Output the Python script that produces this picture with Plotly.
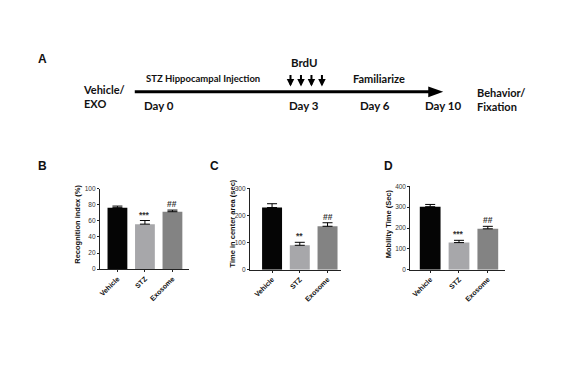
import plotly.graph_objects as go

# ---------------- data ----------------
groups = ["Vehicle", "STZ", "Exosome"]
bar_colors = ["#050505", "#a7a7aa", "#838383"]

recog_mean = [76.5, 56, 71.5]
recog_err = [2, 4.5, 2]
recog_sig = ["", "***", "##"]

center_mean = [229, 90, 160]
center_err = [14, 11, 13]
center_sig = ["", "**", "##"]

mobility_mean = [302, 130, 196]
mobility_err = [11, 11, 12]
mobility_sig = ["", "***", "##"]

timeline_days = ["Day 0", "Day 3", "Day 6", "Day 10"]

W, H = 573, 381
def fx(px): return px / W
def fy(py): return 1 - py / H

panels = [
    dict(m=recog_mean, e=recog_err, s=recog_sig, yr=[0, 100], dt=20,
         title="Recognition index (%)", xd=(99, 188), yd=(270, 188.3), xr=[-0.64, 2.59],
         tx=77, letter="B", lx=42),
    dict(m=center_mean, e=center_err, s=center_sig, yr=[0, 300], dt=100,
         title="Time in center area (sec)", xd=(249.3, 341), yd=(270.7, 187.7), xr=[-0.8, 2.5],
         tx=232, letter="C", lx=214),
    dict(m=mobility_mean, e=mobility_err, s=mobility_sig, yr=[0, 400], dt=100,
         title="Mobility Time (Sec)", xd=(410, 505), yd=(270.7, 185.7), xr=[-0.69, 2.6],
         tx=389, letter="D", lx=388),
]

fig = go.Figure()
annotations = []
shapes = []
layout = {}

def pann(text, x, y, size, family, xanchor="center", angle=0, color="#111"):
    annotations.append(dict(x=fx(x), y=fy(y), xref="paper", yref="paper", text=text,
                            showarrow=False, xanchor=xanchor, yanchor="middle", align="left",
                            textangle=angle, font=dict(size=size, family=family, color=color)))

ARIAL = "Liberation Sans, Arial"
LATO = "Lato, Carlito, sans-serif"

for i, p in enumerate(panels):
    n = "" if i == 0 else str(i + 1)
    xa, ya = "x" + n, "y" + n
    fig.add_trace(go.Bar(
        x=groups, y=p["m"], xaxis=xa, yaxis=ya,
        marker=dict(color=bar_colors, line=dict(width=0)),
        width=0.72,
        error_y=dict(type="data", symmetric=False, array=p["e"],
                     arrayminus=[0] * 3, color="#000", thickness=1, width=5),
        showlegend=False, hoverinfo="skip",
    ))
    layout["xaxis" + n] = dict(
        domain=[fx(p["xd"][0]), fx(p["xd"][1])], anchor=ya, range=p["xr"],
        showline=True, linecolor="#222", linewidth=1, ticks="outside", ticklen=2,
        tickcolor="#222", tickangle=-45,
        tickfont=dict(family=ARIAL, size=7, color="#111", weight="bold"),
        showgrid=False, zeroline=False, fixedrange=True,
    )
    layout["yaxis" + n] = dict(
        domain=[fy(p["yd"][0]), fy(p["yd"][1])], anchor=xa, range=p["yr"], dtick=p["dt"],
        showline=True, linecolor="#222", linewidth=1, ticks="outside", ticklen=2,
        tickcolor="#222", tickfont=dict(family=ARIAL, size=6.5, color="#333"),
        showgrid=False, zeroline=False, fixedrange=True,
    )
    for g, m, e, s in zip(groups, p["m"], p["e"], p["s"]):
        if s:
            annotations.append(dict(x=g, y=m + e, xref=xa, yref=ya, text="<b>" + s + "</b>",
                                    showarrow=False, xanchor="center", yanchor="bottom", yshift=-1,
                                    font=dict(family=ARIAL, size=8.5, color="#333")))
    pann("<b>" + p["title"] + "</b>", p["tx"], 224, 7.5, ARIAL, angle=-90)
    pann("<b>" + p["letter"] + "</b>", p["lx"], 165, 12, ARIAL)

# ---------------- timeline (panel A) ----------------
pann("<b>A</b>", 42, 56, 12, ARIAL)
shapes.append(dict(type="line", xref="paper", yref="paper", x0=fx(134), x1=fx(431),
                   y0=fy(89.5), y1=fy(89.5), line=dict(color="#000", width=3)))
shapes.append(dict(type="path", xref="paper", yref="paper",
                   path=f"M {fx(428)} {fy(84)} L {fx(443)} {fy(89.5)} L {fx(428)} {fy(95)} Z",
                   fillcolor="#000", line=dict(width=0)))

pann("<b>Vehicle/</b><br><b>EXO</b>", 80, 94.5, 11, LATO, "left")
pann("<b>STZ Hippocampal Injection</b>", 143, 75.5, 9.5, LATO, "left")
pann("<b>BrdU</b>", 304, 59.5, 11.5, LATO)
pann("<b>Familiarize</b>", 351, 75.5, 11, LATO, "left")
for d, cx in zip(timeline_days, [158.5, 303.5, 374.5, 443]):
    pann("<b>" + d + "</b>", cx, 103.5, 11.5, LATO)
pann("<b>Behavior/</b><br><b>Fixation</b>", 475, 97.5, 11, LATO, "left")

for ax_px in [290, 300.5, 311, 321.5]:
    annotations.append(dict(x=fx(ax_px), y=fy(84), xref="paper", yref="paper", text="",
                            showarrow=True, arrowhead=2, arrowsize=0.75, arrowwidth=2,
                            arrowcolor="#000", ax=0, ay=-13))

fig.update_layout(
    width=W, height=H, margin=dict(l=0, r=0, t=0, b=0),
    paper_bgcolor="white", plot_bgcolor="white",
    annotations=annotations, shapes=shapes, bargap=0.28, **layout,
)
fig.write_html("out.html", config={"displayModeBar": False},
               post_script="document.body.style.margin='0';document.body.style.overflow='hidden';")
